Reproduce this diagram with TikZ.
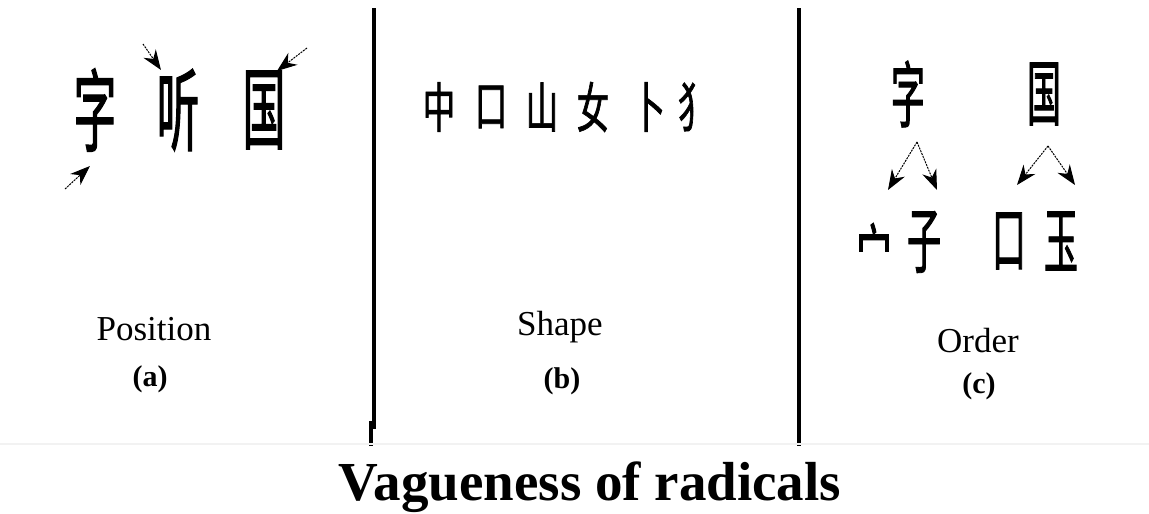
\documentclass[tikz,border=0pt]{standalone}
\usepackage{fontspec}
\setmainfont{Liberation Serif}
\newfontfamily\cjknarrow[FakeStretch=0.47,FakeBold=1.2]{Noto Sans CJK SC}
\newfontfamily\cjkwide[FakeStretch=0.6,FakeBold=1.2]{Noto Sans CJK SC}
\usetikzlibrary{arrows.meta}

\begin{document}
\begin{tikzpicture}[
  x=1pt,y=-1pt,
  every node/.style={
    text=black,inner sep=0pt,outer sep=0pt
  },
  glyph/.style={
    font=\cjknarrow\fontsize{90}{90}\selectfont
  },
  shapeglyph/.style={
    font=\cjkwide\fontsize{54}{54}\selectfont
  },
  orderglyph/.style={
    font=\cjknarrow\fontsize{72}{72}\selectfont
  },
  pointer/.style={
    -{Stealth[length=20pt,width=15pt]},
    dash pattern=on 2pt off 1pt,
    line width=1pt
  },
  divider/.style={
    line width=4.5pt
  },
  caption/.style={
    anchor=base,
    font=\fontsize{35}{35}\selectfont
  },
  tag/.style={
    font=\bfseries\fontsize{30}{30}\selectfont
  }
]
\path[use as bounding box] (0,0) rectangle (1149,514);

% Panel dividers
\draw[divider] (374,8) -- (374,429);
\draw[divider] (371,421) -- (371,446);
\draw[divider] (799,8) -- (799,446);
\draw[black!5,line width=1.5pt] (0,444) -- (1149,444);

% (a) Position
\node[glyph] (zi) at (95,110) {字};
\node[glyph] (ting) at (178,110) {听};
\node[glyph] (guo) at (264,110) {国};

\coordinate (ziTail) at (65,189);
\coordinate (ziTip) at (90,166);
\coordinate (tingTail) at (143,44);
\coordinate (tingTip) at (161,70);
\coordinate (guoTail) at (307,48);
\coordinate (guoTip) at (277,71);

\draw[pointer] (ziTail) -- (ziTip);
\draw[pointer] (tingTail) -- (tingTip);
\draw[pointer] (guoTail) -- (guoTip);

\node[caption] (position) at (154,340) {Position};
\node[tag] (tagA) at (150,379) {(a)};

% (b) Shape
\foreach \name/\x/\ch in {
  zhong/439/中,
  kou/491/口,
  shan/542/山,
  nv/593/女,
  bu/649/卜,
  quan/694/犭
}{
  \node[shapeglyph] (\name) at (\x,107) {\ch};
}

\node[caption] (shape) at (560,335) {Shape};
\node[tag] (tagB) at (562,381) {(b)};

% (c) Order
\node[orderglyph] (ziC) at (908,94) {字};
\node[orderglyph] (guoC) at (1044,94) {国};

\node[orderglyph,font=\cjknarrow\fontsize{74}{74}\selectfont]
  (mian) at (874,254) {宀};
\node[orderglyph] (zi2) at (924,242) {子};
\node[orderglyph] (kouC) at (1009,241) {口};
\node[orderglyph] (yu) at (1061,241) {玉};

\coordinate (ziSplit) at (917,142);
\coordinate (mianTip) at (888,190);
\coordinate (zi2Tip) at (937,190);
\coordinate (guoSplit) at (1048,146);
\coordinate (kouTip) at (1017,185);
\coordinate (yuTip) at (1075,185);

\draw[pointer] (ziSplit) -- (mianTip);
\draw[pointer] (ziSplit) -- (zi2Tip);
\draw[pointer] (guoSplit) -- (kouTip);
\draw[pointer] (guoSplit) -- (yuTip);

\node[caption] (order) at (978,352) {Order};
\node[tag] (tagC) at (979,386) {(c)};

% Title
\node[anchor=base,font=\bfseries\fontsize{55}{55}\selectfont]
  (title) at (590,500) {Vagueness of radicals};

\end{tikzpicture}
\end{document}
